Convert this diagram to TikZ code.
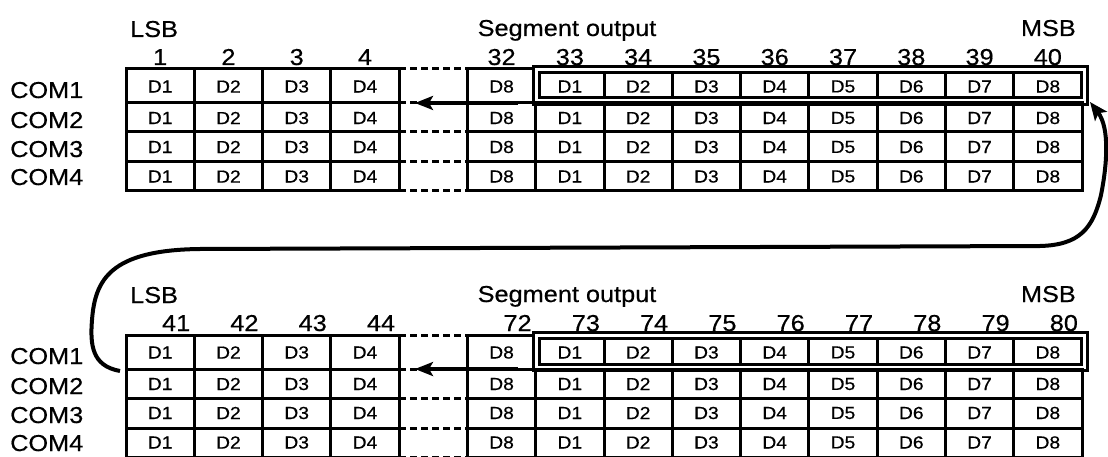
\documentclass[tikz,border=0pt]{standalone}
\usepackage{fontspec}
\setmainfont{Liberation Sans}[FakeStretch=1.1,FakeBold=0.5]
\usetikzlibrary{arrows.meta}
\def\cw{68.2857}
\newcommand\drawblock[3]{%
  % horizontal grid lines
  \draw[gridline] (126,69) -- ({126+4*\cw},69);
  \draw[gridline] ({126+5*\cw},69) -- ({126+6*\cw-2},69);
  \foreach \yy in {103,132,162,191} {
    \draw[gridline] (126,\yy) -- ({126+4*\cw},\yy);
    \draw[gridline] ({126+5*\cw},\yy) -- ({126+14*\cw},\yy);
  }
  \foreach \yy in {69,103,132,162,191}
    \draw[dashline] ({126+4*\cw},\yy) -- ({126+5*\cw},\yy);
  % vertical grid lines
  \foreach \k in {0,...,5} \draw[gridline] ({126+\k*\cw},69) -- ({126+\k*\cw},191);
  \foreach \k in {6,...,14} \draw[gridline] ({126+\k*\cw},104) -- ({126+\k*\cw},191);
  \foreach \k in {7,...,13} \draw[gridline] ({126+\k*\cw},72.5) -- ({126+\k*\cw},98);
  % highlighted double box
  \draw[gridline] ({126+6*\cw-2.5},66.5) rectangle ({126+14*\cw+5},104.5);
  \draw[gridline] ({126+6*\cw+4},72.5) rectangle ({126+14*\cw-1},98);
  % cell texts
  \foreach \r/\yc in {1/86.5,2/118,3/147,4/176.5} {
    \foreach \k/\t in {0/D1,1/D2,2/D3,3/D4,5/D8,6/D1,7/D2,8/D3,9/D4,10/D5,11/D6,12/D7,13/D8}
      \node[cell] (#1-r\r-c\k) at ({126+(\k+0.5)*\cw},\yc) {\t};
  }
  % COM labels
  \foreach \r/\yb in {1/98,2/128,3/157,4/185}
    \node[lbl, anchor=base west] (#1-com\r) at (10,\yb) {COM\r};
  % column numbers
  \foreach \k/\nn in {#2}
    \node[lbl, anchor=base] (#1-n\k) at ({126+(\k+0.5)*\cw+#3},65) {\nn};
  \node[lbl, anchor=base west] (#1-lsb) at (130,37) {LSB};
  \node[lbl, anchor=base] (#1-seg) at (567,36) {Segment output};
  \node[lbl, anchor=base east] (#1-msb) at (1076,36) {MSB};
  % shift arrow
  \coordinate (#1-as) at (518,103);
  \coordinate (#1-ae) at (415,103);
  \draw[shiftarrow] (#1-as) -- (#1-ae);
}
\begin{document}
\begin{tikzpicture}[x=1pt,y=-1pt,
  gridline/.style={line width=3pt, line cap=rect},
  dashline/.style={line width=3pt, dash pattern=on 7pt off 4pt},
  lbl/.style={font=\fontsize{23}{27}\selectfont, inner sep=0pt},
  cell/.style={font=\fontsize{17.5}{21}\selectfont, inner sep=0pt},
  shiftarrow/.style={line width=3.4pt, -{Stealth[length=18pt,width=14pt,inset=4pt]}},
  wraparrow/.style={line width=4pt, -{Stealth[length=18pt,width=15pt,inset=4pt]}}]
\useasboundingbox (0,0) rectangle (1108,457);
\fill[white] (0,0) rectangle (1108,457);

\drawblock{t}{0/1,1/2,2/3,3/4,5/32,6/33,7/34,8/35,9/36,10/37,11/38,12/39,13/40}{0}
\begin{scope}[yshift=-266pt]
\drawblock{b}{0/41,1/42,2/43,3/44,5/72,6/73,7/74,8/75,9/76,10/77,11/78,12/79,13/80}{16}
\end{scope}

\coordinate (wrapstart) at (120,371);
\coordinate (wrapend) at (1090,102);
\draw[wraparrow] (wrapstart) .. controls (92,366) and (90,345) .. (92,320)
  .. controls (95,280) and (110,250) .. (200,249) -- (1040,246)
  .. controls (1080,245) and (1093,228) .. (1101,195)
  .. controls (1107,165) and (1110,128) .. (wrapend);
\end{tikzpicture}
\end{document}
